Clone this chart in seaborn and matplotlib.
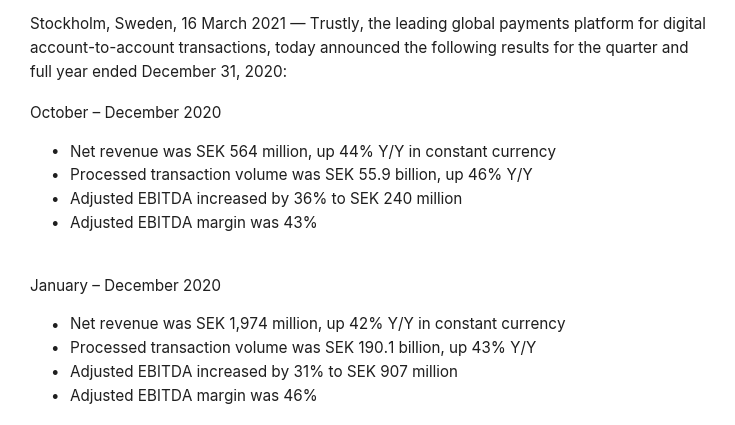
import matplotlib.pyplot as plt
import seaborn as sns

intro_lines = [
    "Stockholm, Sweden, 16 March 2021 \u2014 Trustly, the leading global payments platform for digital",
    "account-to-account transactions, today announced the following results for the quarter and",
    "full year ended December 31, 2020:",
]
section_titles = ["October \u2013 December 2020", "January \u2013 December 2020"]
q4_bullets = [
    "Net revenue was SEK 564 million, up 44% Y/Y in constant currency",
    "Processed transaction volume was SEK 55.9 billion, up 46% Y/Y",
    "Adjusted EBITDA increased by 36% to SEK 240 million",
    "Adjusted EBITDA margin was 43%",
]
fy_bullets = [
    "Net revenue was SEK 1,974 million, up 42% Y/Y in constant currency",
    "Processed transaction volume was SEK 190.1 billion, up 43% Y/Y",
    "Adjusted EBITDA increased by 31% to SEK 907 million",
    "Adjusted EBITDA margin was 46%",
]

sns.set_theme(style="white", font="Inter")
W, H = 735, 425
fig = plt.figure(figsize=(W / 100, H / 100), dpi=100)
fig.patch.set_facecolor("white")
color = "#1f1f1f"
fs = 11.0


def put(x, y, s):
    fig.text(x / W, 1 - y / H, s, fontsize=fs, color=color, va="center", ha="left")


for i, line in enumerate(intro_lines):
    put(30, 24 + i * 24, line)

for title, bullets, y0 in [(section_titles[0], q4_bullets, 113), (section_titles[1], fy_bullets, 286)]:
    put(30, y0, title)
    for j, b in enumerate(bullets):
        y = y0 + 39 + j * 23.7
        put(50, y, "\u2022")
        put(70, y, b)

fig.savefig("out.png", dpi=100, facecolor="white")
